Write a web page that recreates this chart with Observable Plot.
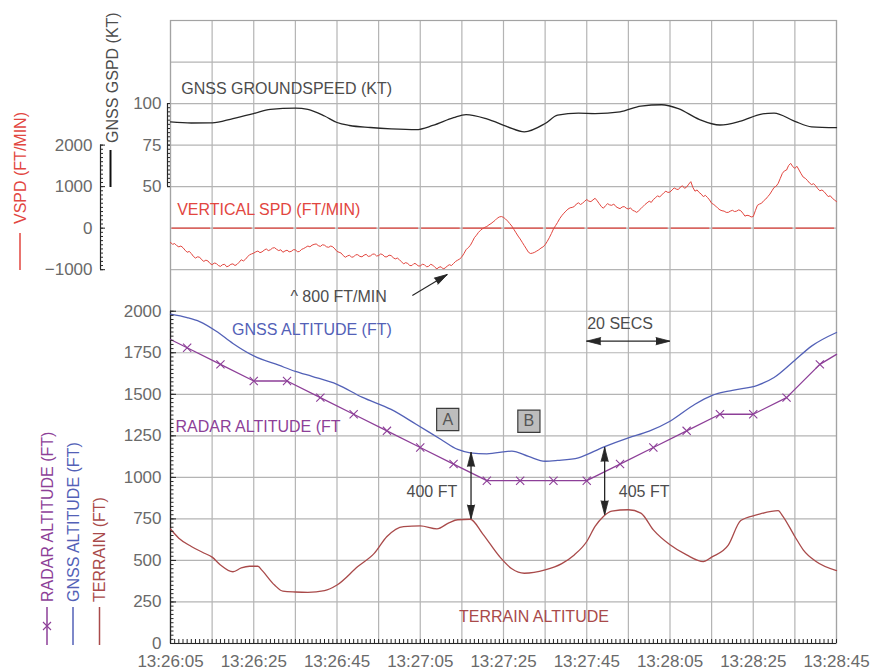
<!DOCTYPE html>
<html>
<head>
<meta charset="utf-8">
<script src="https://cdn.jsdelivr.net/npm/d3@7"></script>
<script src="https://cdn.jsdelivr.net/npm/@observablehq/plot@0.6"></script>
<style>
  html, body { margin: 0; padding: 0; background: #fff; }
  #chart { position: relative; width: 872px; height: 670px; overflow: hidden; }
  #chart svg { position: absolute; left: 0; top: 0; }
</style>
</head>
<body>
<div id="chart"></div>
<script>
// ---------- data ----------
const timeTicks = ["13:26:05", "13:26:25", "13:26:45", "13:27:05", "13:27:25", "13:27:45", "13:28:05", "13:28:25", "13:28:45"];
const altTicks = [0, 250, 500, 750, 1000, 1250, 1500, 1750, 2000];
const vspdTicks = [-1000, 0, 1000, 2000];
const gspdTicks = [50, 75, 100];

// GNSS groundspeed, knots
const groundspeed = [
  ["13:26:05", 89], ["13:26:10", 88.3], ["13:26:15", 88.4], ["13:26:20", 91], ["13:26:25", 94],
  ["13:26:29", 96.5], ["13:26:35", 97.3], ["13:26:38", 96.5], ["13:26:42", 92.5], ["13:26:45", 88.6],
  ["13:26:48", 86.8], ["13:26:53", 85.6], ["13:26:58", 84.8], ["13:27:04", 84.3], ["13:27:08", 86.8],
  ["13:27:13", 91.5], ["13:27:16", 93.4], ["13:27:21", 90.8], ["13:27:26", 86], ["13:27:30", 83],
  ["13:27:35", 88], ["13:27:38", 93], ["13:27:43", 94.2], ["13:27:47", 94], ["13:27:53", 95],
  ["13:27:58", 98.5], ["13:28:03", 99.3], ["13:28:07", 97], ["13:28:12", 90.5], ["13:28:17", 87.1],
  ["13:28:22", 89.5], ["13:28:27", 93.7], ["13:28:30", 94.3], ["13:28:35", 89.3], ["13:28:39", 86],
  ["13:28:45", 85.5]
];

// vertical speed, ft/min, two samples per second from vspdStart
const vspdStart = "13:26:05";
const vspd = [
  -340, -390, -370, -420, -450, -430, -470, -530, -580, -560,
  -610, -680, -720, -690, -700, -760, -800, -770, -790, -850,
  -880, -840, -850, -900, -920, -880, -870, -930, -910, -870,
  -860, -900, -870, -820, -760, -790, -750, -690, -640, -620,
  -600, -570, -550, -590, -570, -530, -500, -540, -520, -480,
  -470, -510, -540, -520, -580, -550, -530, -570, -560, -520,
  -520, -570, -560, -510, -490, -460, -430, -450, -410, -390,
  -380, -420, -440, -400, -410, -450, -460, -430, -450, -500,
  -560, -580, -600, -660, -700, -670, -650, -700, -690, -640,
  -640, -680, -690, -650, -630, -680, -670, -630, -620, -670,
  -660, -620, -640, -690, -690, -650, -660, -710, -740, -720,
  -760, -810, -860, -830, -850, -900, -900, -850, -860, -910,
  -910, -870, -880, -930, -920, -870, -890, -940, -980, -940,
  -930, -980, -960, -910, -880, -900, -850, -800, -770, -740,
  -690, -610, -520, -470, -420, -330, -230, -170, -100, -50,
  -10, 20, 40, 80, 110, 150, 190, 240, 270, 280,
  260, 220, 170, 110, 50, -30, -110, -190, -260, -340,
  -420, -500, -580, -610, -600, -580, -550, -520, -480, -450,
  -400, -320, -230, -130, -20, 60, 140, 230, 300, 360,
  410, 460, 490, 500, 520, 580, 610, 570, 600, 650,
  690, 650, 640, 680, 720, 660, 590, 520, 480, 540,
  590, 560, 550, 580, 520, 490, 470, 510, 520, 480,
  460, 490, 430, 410, 380, 420, 470, 520, 570, 610,
  650, 620, 690, 730, 780, 750, 800, 850, 890, 860,
  870, 920, 970, 940, 930, 990, 1020, 960, 990, 1060,
  1120, 980, 890, 920, 860, 820, 760, 790, 740, 680,
  600, 570, 530, 480, 440, 420, 410, 380, 380, 410,
  430, 400, 410, 440, 420, 360, 290, 310, 300, 270,
  280, 420, 550, 580, 600, 660, 700, 760, 820, 900,
  980, 1010, 1080, 1200, 1320, 1380, 1400, 1510, 1560, 1480,
  1440, 1490, 1400, 1310, 1230, 1200, 1150, 1090, 1050, 1070,
  1020, 950, 900, 920, 880, 820, 760, 780, 720, 680,
  640
];

// GNSS altitude, ft
const gnssAltitude = [
  ["13:26:05", 1983], ["13:26:09", 1962], ["13:26:12", 1938], ["13:26:16", 1880], ["13:26:20", 1806],
  ["13:26:25", 1731], ["13:26:31", 1675], ["13:26:35", 1638], ["13:26:39", 1608], ["13:26:45", 1560],
  ["13:26:51", 1483], ["13:26:58", 1409], ["13:27:04", 1320], ["13:27:10", 1228], ["13:27:14", 1168],
  ["13:27:17", 1148], ["13:27:21", 1142], ["13:27:27", 1158], ["13:27:31", 1126], ["13:27:35", 1097],
  ["13:27:38", 1102], ["13:27:43", 1118], ["13:27:49", 1182], ["13:27:55", 1238], ["13:28:00", 1278],
  ["13:28:05", 1338], ["13:28:11", 1440], ["13:28:15", 1492], ["13:28:20", 1524], ["13:28:26", 1554],
  ["13:28:30", 1601], ["13:28:35", 1705], ["13:28:39", 1790], ["13:28:45", 1872]
];

// radar altitude, ft (first and last rows are the trace ends, the rest are samples)
const radarAltitude = [
  ["13:26:05", 1830], ["13:26:09", 1780], ["13:26:17", 1680], ["13:26:25", 1580], ["13:26:33", 1580],
  ["13:26:41", 1480], ["13:26:49", 1380], ["13:26:57", 1280], ["13:27:05", 1180], ["13:27:13", 1080],
  ["13:27:21", 980], ["13:27:29", 980], ["13:27:37", 980], ["13:27:45", 980], ["13:27:53", 1080],
  ["13:28:01", 1180], ["13:28:09", 1280], ["13:28:17", 1380], ["13:28:25", 1380], ["13:28:33", 1480],
  ["13:28:41", 1680], ["13:28:45", 1740]
];

// terrain elevation, ft
const terrain = [
  ["13:26:05", 689], ["13:26:07", 634], ["13:26:10", 584], ["13:26:13", 545], ["13:26:15", 520],
  ["13:26:17", 473], ["13:26:20", 432], ["13:26:22", 455], ["13:26:24", 465], ["13:26:26", 465],
  ["13:26:27", 440], ["13:26:30", 352], ["13:26:32", 315], ["13:26:35", 310], ["13:26:38", 308],
  ["13:26:42", 318], ["13:26:45", 352], ["13:26:50", 463], ["13:26:54", 544], ["13:26:57", 644],
  ["13:27:01", 704], ["13:27:05", 708], ["13:27:09", 690], ["13:27:12", 728], ["13:27:14", 745],
  ["13:27:17", 748], ["13:27:20", 660], ["13:27:24", 525], ["13:27:27", 450], ["13:27:30", 423],
  ["13:27:35", 443], ["13:27:39", 481], ["13:27:42", 533], ["13:27:45", 614], ["13:27:47", 705],
  ["13:27:49", 765], ["13:27:51", 797], ["13:27:55", 805], ["13:27:58", 785], ["13:28:01", 684],
  ["13:28:05", 594], ["13:28:09", 533], ["13:28:13", 493], ["13:28:15", 520], ["13:28:19", 592],
  ["13:28:22", 740], ["13:28:26", 775], ["13:28:31", 800], ["13:28:32", 770], ["13:28:35", 644],
  ["13:28:37", 564], ["13:28:40", 495], ["13:28:45", 439]
];

// height above terrain callouts
const clearances = [
  {at: "13:27:17.2", terrain: 750, gap: 400, label: "400 FT", labelAt: "13:27:01.7"},
  {at: "13:27:49.3", terrain: 775, gap: 405, label: "405 FT", labelAt: "13:27:52.7"}
];

// ---------- helpers ----------
const at = s => {
  const [h, m, sec] = s.split(":");
  return new Date(Date.UTC(2000, 0, 1, +h, +m) + parseFloat(sec) * 1000);
};
const pairs = rows => rows.map(([time, value]) => ({time: at(time), value}));

const FONT = '"Liberation Sans", Arial, Helvetica, sans-serif';
const red = "#e2463f", ink = "#262626", blue = "#5361b7", purple = "#8d3f98", brown = "#a94a4a";
const textInk = "#4d4d4d", tickInk = "#6a6a6a", gridInk = "#b4b4b4";

const W = 872, H = 670;
const box = {width: W, height: H, marginLeft: 170, marginRight: 36, marginTop: 20, marginBottom: 27};
const start = at(timeTicks[0]), end = at(timeTicks[timeTicks.length - 1]);
const xScale = {type: "utc", domain: [start, end], label: null};
const plotStyle = {background: "transparent", fontFamily: FONT, fontSize: "16px", overflow: "visible"};

const gspdData = pairs(groundspeed);
const vspdData = vspd.map((value, i) => ({time: new Date(+at(vspdStart) + i * 500), value}));
const gnssData = pairs(gnssAltitude);
const radarData = pairs(radarAltitude);
const terrainData = pairs(terrain);
const clearanceData = clearances.map(d => ({...d, time: at(d.at), top: d.terrain + d.gap, labelTime: at(d.labelAt)}));

const tenSeconds = d3.utcSecond.range(start, +end + 1, 10);
const everySecond = d3.utcSecond.range(start, +end + 1);
const blank = () => "";
const plain = d => d < 0 ? "\u2212" + Math.abs(d) : String(d);
const head = {shape: "spike", length: 14, r: 3.6, fill: ink, stroke: ink, strokeWidth: 0.8, anchor: "end"};

// ---------- altitude panel, grid and time axis ----------
const spanArrow = {from: at("13:27:45"), to: at("13:28:05"), ft: 1820};
const boxes = [{at: at("13:27:11.6"), ft: 1348, t: "A"}, {at: at("13:27:31.1"), ft: 1338, t: "B"}];
const base = Plot.plot({
  ...box,
  style: plotStyle,
  x: xScale,
  y: {domain: [0, 3750], label: null},
  marks: [
    Plot.gridX(tenSeconds, {stroke: gridInk, strokeOpacity: 1, strokeWidth: 1.2}),
    Plot.gridY(d3.range(0, 3751, 250), {stroke: gridInk, strokeOpacity: 1, strokeWidth: 1.2}),
    Plot.frame({stroke: "#a3a3a3", strokeWidth: 1.2}),
    Plot.ruleY([0], {stroke: ink, strokeWidth: 1.2}),
    Plot.ruleX([start], {y1: 0, y2: 2000, stroke: ink, strokeWidth: 1.2}),
    // white-backed labels (backgrounds added after layout)
    Plot.text(clearanceData, {x: "labelTime", y: 915, text: "label", textAnchor: "start", fill: textInk, fontSize: 16, ariaLabel: "boxed-8"}),
    Plot.text(["TERRAIN ALTITUDE"], {x: at("13:27:14.3"), y: 163, textAnchor: "start", fill: brown, fontSize: 16, ariaLabel: "boxed-12"}),
    Plot.text(["20 SECS"], {x: at("13:27:45.1"), y: 1924, textAnchor: "start", fill: textInk, fontSize: 16, ariaLabel: "boxed-3"}),
    // traces
    Plot.line(terrainData, {x: "time", y: "value", stroke: brown, strokeWidth: 1.3, curve: "monotone-x"}),
    Plot.line(gnssData, {x: "time", y: "value", stroke: blue, strokeWidth: 1.3, curve: "monotone-x"}),
    Plot.line(radarData, {x: "time", y: "value", stroke: purple, strokeWidth: 1.3}),
    Plot.dot(radarData.slice(1, -1), {x: "time", y: "value", symbol: "times", r: 3.8, stroke: purple, strokeWidth: 1.1}),
    // trace labels
    Plot.text(["GNSS ALTITUDE (FT)"], {x: at("13:26:19.8"), y: 1888, textAnchor: "start", fill: blue, fontSize: 16}),
    Plot.text(["RADAR ALTITUDE (FT"], {x: at("13:26:06.2"), y: 1302, textAnchor: "start", fill: purple, fontSize: 16}),
    // clearance arrows
    Plot.ruleX(clearanceData, {x: "time", y1: "terrain", y2: "top", stroke: ink, strokeWidth: 1.3}),
    Plot.vector(clearanceData, {x: "time", y: "top", rotate: 0, ...head}),
    Plot.vector(clearanceData, {x: "time", y: "terrain", rotate: 180, ...head}),
    // 20 second span arrow
    Plot.ruleY([spanArrow], {x1: "from", x2: "to", y: "ft", stroke: ink, strokeWidth: 1.3}),
    Plot.vector([spanArrow], {x: "from", y: "ft", rotate: -90, ...head}),
    Plot.vector([spanArrow], {x: "to", y: "ft", rotate: 90, ...head}),
    // A / B markers
    Plot.dot(boxes, {x: "at", y: "ft", symbol: "square", r: 12.5, fill: "#bdbdbd", stroke: "#3c3c3c", strokeWidth: 1.2}),
    Plot.text(boxes, {x: "at", y: "ft", text: "t", fill: "#555", fontSize: 16}),
    // axes
    Plot.axisX(timeTicks.map(at), {tickSize: 0, tickPadding: 11, tickFormat: d3.utcFormat("%H:%M:%S"), fontSize: 17, fill: tickInk, label: null}),
    Plot.axisX(everySecond, {tickSize: 4, dy: -4, tickFormat: blank, stroke: ink, label: null}),
    Plot.axisY(altTicks, {tickSize: 0, tickPadding: 9, fontSize: 17, fill: tickInk, label: null, tickFormat: plain}),
    Plot.axisY(altTicks, {tickSize: 6, dx: 6, tickFormat: blank, stroke: ink, label: null}),
    Plot.axisY(d3.range(0, 2001, 25), {tickSize: 3.5, dx: 3.5, tickFormat: blank, stroke: ink, label: null})
  ]
});

// ---------- groundspeed trace ----------
const gspdDomain = [-225, 150];
const gspdPlot = Plot.plot({
  ...box,
  style: plotStyle,
  x: {...xScale, axis: null},
  y: {domain: gspdDomain, axis: null},
  marks: [
    Plot.line(gspdData, {x: "time", y: "value", stroke: ink, strokeWidth: 1.3, curve: "monotone-x"}),
    Plot.text(["GNSS GROUNDSPEED (KT)"], {x: at("13:26:07.6"), y: 109, textAnchor: "start", fill: textInk, fontSize: 16})
  ]
});

// ---------- vertical speed trace ----------
const vspdDomain = [-10000, 5000];
const slopeNote = {from: at("13:27:03.1"), fromV: -1621, to: at("13:27:11.5"), toV: -1115};
const vspdPlot = Plot.plot({
  ...box,
  style: plotStyle,
  x: {...xScale, axis: null},
  y: {domain: vspdDomain, axis: null},
  marks: [
    Plot.ruleY([0], {stroke: red, strokeWidth: 1.2, strokeDasharray: "38.6,3", strokeDashoffset: -1.5}),
    Plot.line(vspdData, {x: "time", y: "value", stroke: red, strokeWidth: 1}),
    Plot.text(["VERTICAL SPD (FT/MIN)"], {x: at("13:26:06.6"), y: 440, textAnchor: "start", fill: red, fontSize: 16}),
    Plot.text(["^ 800 FT/MIN"], {x: at("13:26:33.8"), y: -1662, textAnchor: "start", fill: textInk, fontSize: 16}),
    Plot.link([slopeNote], {x1: "from", y1: "fromV", x2: "to", y2: "toV", stroke: ink, strokeWidth: 1.1}),
    Plot.vector([slopeNote], {x: "to", y: "toV", rotate: 59, ...head, length: 13})
  ]
});

// ---------- left-hand speed axes ----------
const vspdAxis = Plot.plot({
  ...box,
  marginLeft: 100,
  style: plotStyle,
  x: {domain: [0, 1], axis: null},
  y: {domain: vspdDomain, label: null},
  marks: [
    Plot.ruleX([0], {y1: -1000, y2: 2000, stroke: ink, strokeWidth: 1.2}),
    Plot.axisY(vspdTicks, {tickSize: 0, tickPadding: 8, fontSize: 17, fill: tickInk, label: null, tickFormat: plain}),
    Plot.axisY(vspdTicks, {tickSize: 5, dx: 5, tickFormat: blank, stroke: ink, label: null}),
    Plot.axisY(d3.range(-1000, 2001, 100), {tickSize: 3, dx: 3, tickFormat: blank, stroke: ink, label: null})
  ]
});

const gspdAxis = Plot.plot({
  ...box,
  marginLeft: 167,
  style: plotStyle,
  x: {domain: [0, 1], axis: null},
  y: {domain: gspdDomain, label: null},
  marks: [
    Plot.ruleX([0], {y1: 50, y2: 100, stroke: ink, strokeWidth: 1.2}),
    Plot.axisY(gspdTicks, {tickSize: 0, tickPadding: 6, fontSize: 17, fill: tickInk, label: null, tickFormat: plain}),
    Plot.axisY(gspdTicks, {tickSize: 3, dx: 3, tickFormat: blank, stroke: ink, label: null}),
    Plot.axisY(d3.range(50, 100.1, 2.5), {tickSize: 3, dx: 3, tickFormat: blank, stroke: ink, label: null})
  ]
});

// ---------- series keys (rotated titles with line swatches) ----------
const keys = [
  {text: "VSPD (FT/MIN)", color: red, textColor: red, x: 20, textFrom: 224, line: [233, 270], width: 1.5},
  {text: "GNSS GSPD (KT)", color: "#111", textColor: textInk, x: 112, textFrom: 143, line: [150, 187], width: 2, lineX: 110.5},
  {text: "RADAR ALTITUDE (FT)", color: purple, textColor: purple, x: 47, textFrom: 602, line: [607, 645], width: 1.5, cross: 626},
  {text: "GNSS ALTITUDE (FT)", color: blue, textColor: blue, x: 73, textFrom: 602, line: [607, 645], width: 1.5},
  {text: "TERRAIN (FT)", color: brown, textColor: brown, x: 99.5, textFrom: 602, line: [607, 645], width: 1.5}
];
const keySvg = d3.create("svg").attr("width", W).attr("height", H).style("font-family", FONT);
for (const k of keys) {
  const lx = k.lineX ?? k.x;
  keySvg.append("text")
    .attr("transform", `translate(${k.x},${k.textFrom}) rotate(-90)`)
    .attr("dy", "0.35em")
    .attr("font-size", 16)
    .attr("fill", k.textColor)
    .text(k.text);
  keySvg.append("line")
    .attr("x1", lx).attr("x2", lx).attr("y1", k.line[0]).attr("y2", k.line[1])
    .attr("stroke", k.color).attr("stroke-width", k.width);
  if (k.cross) {
    keySvg.append("path")
      .attr("d", `M${lx - 4},${k.cross - 4}L${lx + 4},${k.cross + 4}M${lx - 4},${k.cross + 4}L${lx + 4},${k.cross - 4}`)
      .attr("stroke", k.color).attr("stroke-width", 1.1);
  }
}

// ---------- assemble ----------
const chart = document.getElementById("chart");
for (const svg of [base, gspdPlot, vspdPlot, vspdAxis, gspdAxis, keySvg.node()]) chart.appendChild(svg);

// white backgrounds behind callout labels
chart.querySelectorAll('g[aria-label^="boxed-"]').forEach(g => {
  const pad = +g.getAttribute("aria-label").split("-")[1];
  g.querySelectorAll("text").forEach(tx => {
    const b = tx.getBBox();
    const r = document.createElementNS("http://www.w3.org/2000/svg", "rect");
    r.setAttribute("x", b.x - 4);
    r.setAttribute("y", b.y - pad);
    r.setAttribute("width", b.width + 8);
    r.setAttribute("height", b.height + pad + 4);
    r.setAttribute("fill", "white");
    if (tx.getAttribute("transform")) r.setAttribute("transform", tx.getAttribute("transform"));
    tx.parentNode.insertBefore(r, tx);
  });
});
</script>
</body>
</html>
